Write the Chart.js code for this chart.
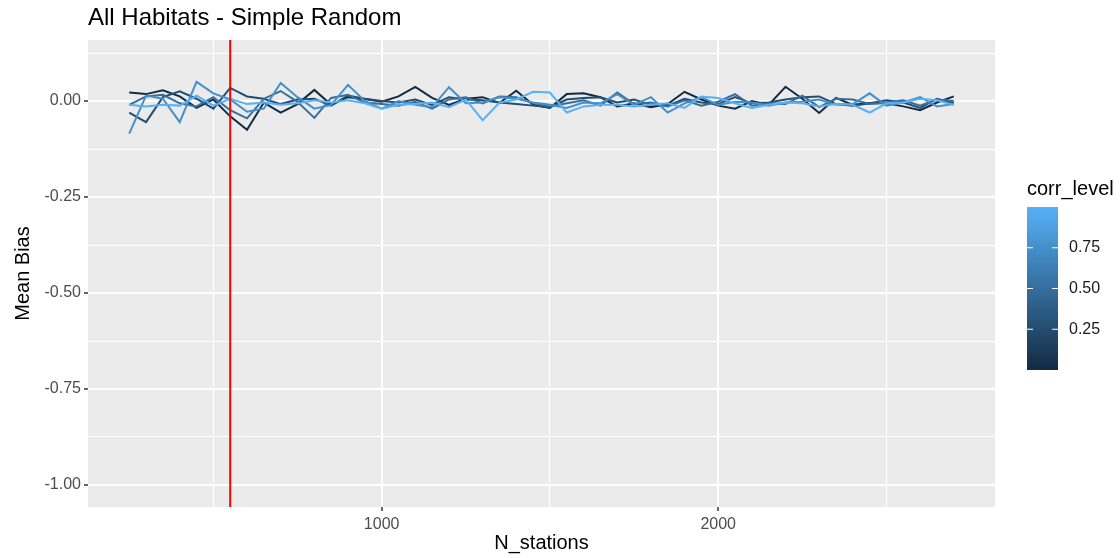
<!DOCTYPE html>
<html>
<head>
<meta charset="utf-8">
<script src="https://cdn.jsdelivr.net/npm/chart.js@4.4.1/dist/chart.umd.min.js"></script>
<style>
  html, body { margin: 0; padding: 0; background: #fff; }
  #wrap { width: 1120px; height: 558px; }
</style>
</head>
<body>
<div id="wrap"><canvas id="biasChart" width="1120" height="558"></canvas></div>
<script>
// sample sizes (x) shared by every corr_level series
const nStations = [
  250, 300, 350, 400, 450, 500, 550, 600, 650, 700,
  750, 800, 850, 900, 950, 1000, 1050, 1100, 1150, 1200,
  1250, 1300, 1350, 1400, 1450, 1500, 1550, 1600, 1650, 1700,
  1750, 1800, 1850, 1900, 1950, 2000, 2050, 2100, 2150, 2200,
  2250, 2300, 2350, 2400, 2450, 2500, 2550, 2600, 2650, 2700
];

const corrLevels = [0, 0.25, 0.5, 0.75, 1];

// mean bias per corr_level
const bias000 = [
  0.022, 0.018, 0.028, 0.012, -0.018, 0.004, -0.040, -0.075, -0.004, -0.030,
  -0.008, 0.029, -0.010, 0.010, 0.005, -0.002, 0.012, 0.037, 0.008, -0.010,
  0.006, 0.010, -0.005, 0.027, -0.010, -0.018, 0.018, 0.020, 0.010, -0.014,
  -0.006, -0.016, -0.008, 0.024, 0.004, -0.012, -0.020, 0.000, -0.010, 0.037,
  0.006, -0.031, 0.008, -0.010, -0.005, -0.006, -0.014, -0.024, -0.004, 0.012
];
const bias025 = [
  -0.030, -0.055, 0.010, 0.025, 0.006, -0.020, 0.034, 0.012, 0.006, -0.008,
  0.004, 0.006, -0.012, 0.014, 0.006, 0.000, -0.004, 0.004, -0.010, 0.010,
  0.004, 0.002, -0.004, -0.008, -0.012, -0.016, 0.004, 0.008, 0.010, -0.004,
  0.004, -0.010, -0.012, 0.006, -0.004, -0.008, 0.010, -0.006, -0.004, 0.004,
  0.010, 0.012, -0.008, -0.012, -0.006, 0.002, -0.004, -0.018, 0.006, -0.006
];
const bias050 = [
  -0.010, 0.012, 0.016, -0.006, -0.014, 0.010, -0.024, -0.045, 0.006, 0.026,
  -0.002, -0.044, 0.008, 0.016, -0.004, -0.008, -0.012, -0.002, -0.020, 0.004,
  0.010, -0.006, 0.012, 0.010, -0.006, -0.014, -0.006, 0.002, -0.012, 0.022,
  -0.008, -0.004, -0.014, 0.002, -0.012, -0.002, 0.018, -0.012, -0.006, -0.008,
  0.014, -0.016, 0.006, 0.004, -0.008, -0.004, 0.002, -0.012, 0.004, 0.000
];
const bias075 = [
  -0.085, 0.014, 0.006, -0.055, 0.050, 0.020, 0.004, -0.028, -0.020, 0.047,
  0.010, -0.020, -0.010, 0.042, 0.000, -0.020, 0.000, -0.010, -0.016, 0.036,
  -0.006, -0.004, 0.010, 0.006, -0.004, -0.010, -0.018, -0.004, -0.006, 0.018,
  -0.010, 0.010, -0.030, -0.006, 0.010, -0.010, -0.002, -0.004, -0.012, -0.004,
  -0.002, 0.004, -0.010, -0.008, 0.020, -0.012, -0.004, 0.010, -0.014, -0.008
];
const bias100 = [
  -0.010, -0.014, -0.010, -0.012, 0.014, -0.012, 0.006, -0.008, -0.004, -0.010,
  -0.006, 0.002, -0.004, 0.002, -0.006, -0.020, -0.010, -0.008, -0.004, -0.016,
  0.004, -0.050, -0.004, 0.004, 0.024, 0.022, -0.030, -0.014, -0.010, -0.010,
  -0.014, -0.010, -0.006, -0.018, 0.012, 0.008, -0.006, -0.018, -0.010, -0.004,
  -0.006, -0.014, -0.008, -0.010, -0.030, -0.006, -0.004, 0.006, 0.002, -0.010
];
const biasSeries = [bias000, bias025, bias050, bias075, bias100];

const xTicks = [500, 1000, 1500, 2000, 2500];
const yTicks = [0.125, 0, -0.125, -0.25, -0.375, -0.5, -0.625, -0.75, -0.875, -1.0];
const legendBreaks = [0.25, 0.5, 0.75];
const cutoffN = 550;

const LOW = [19, 43, 67];     // #132B43
const HIGH = [86, 177, 247];  // #56B1F7
function levelColor(t) {
  const c = LOW.map((v, i) => Math.round(v + (HIGH[i] - v) * t));
  return `rgb(${c[0]},${c[1]},${c[2]})`;
}

const FONT = '"Liberation Sans", Arial, Helvetica, sans-serif';
const isMajor = v => Math.abs(v * 4 - Math.round(v * 4)) < 1e-9;

const datasets = corrLevels.map((lvl, k) => ({
  label: String(lvl),
  data: nStations.map((n, i) => ({ x: n, y: biasSeries[k][i] })),
  borderColor: levelColor(lvl),
  borderWidth: 2,
  pointRadius: 0,
  tension: 0,
  fill: false,
  order: corrLevels.length - k   // higher corr drawn on top
}));

// grey panel behind the grid
const panelBg = {
  id: 'panelBg',
  beforeDraw(chart) {
    const { ctx, chartArea: a } = chart;
    ctx.save();
    ctx.fillStyle = '#FFFFFF';
    ctx.fillRect(0, 0, chart.width, chart.height);
    ctx.fillStyle = '#EBEBEB';
    ctx.fillRect(a.left, a.top, a.right - a.left, a.bottom - a.top);
    ctx.restore();
  }
};

// red vertical reference line
const cutoffLine = {
  id: 'cutoffLine',
  afterDatasetsDraw(chart) {
    const { ctx, chartArea: a, scales } = chart;
    const px = scales.x.getPixelForValue(cutoffN);
    ctx.save();
    ctx.strokeStyle = '#FF0000';
    ctx.lineWidth = 2;
    ctx.beginPath();
    ctx.moveTo(px, a.top);
    ctx.lineTo(px, a.bottom);
    ctx.stroke();
    ctx.restore();
  }
};

// title, axis titles and the colour bar legend
const decor = {
  id: 'decor',
  afterDraw(chart) {
    const { ctx, chartArea: a } = chart;
    ctx.save();
    ctx.fillStyle = '#000000';
    ctx.textBaseline = 'middle';

    ctx.font = `24px ${FONT}`;
    ctx.textAlign = 'left';
    ctx.fillText('All Habitats - Simple Random', a.left, 18);

    ctx.font = `20px ${FONT}`;
    ctx.textAlign = 'center';
    ctx.fillText('N_stations', (a.left + a.right) / 2, 543);

    ctx.save();
    ctx.translate(23, (a.top + a.bottom) / 2);
    ctx.rotate(-Math.PI / 2);
    ctx.fillText('Mean Bias', 0, 0);
    ctx.restore();

    // colour bar
    const bx = 1027, bw = 31, top = 207, bottom = 370;
    ctx.textAlign = 'left';
    ctx.font = `20px ${FONT}`;
    ctx.fillText('corr_level', bx, 189);

    const g = ctx.createLinearGradient(0, bottom, 0, top);
    g.addColorStop(0, levelColor(0));
    g.addColorStop(1, levelColor(1));
    ctx.fillStyle = g;
    ctx.fillRect(bx, top, bw, bottom - top);

    ctx.font = `16px ${FONT}`;
    ctx.strokeStyle = '#FFFFFF';
    ctx.lineWidth = 1;
    legendBreaks.forEach(b => {
      const y = bottom - (bottom - top) * b;
      ctx.beginPath();
      ctx.moveTo(bx, y); ctx.lineTo(bx + 6, y);
      ctx.moveTo(bx + bw - 6, y); ctx.lineTo(bx + bw, y);
      ctx.stroke();
      ctx.fillStyle = '#1A1A1A';
      ctx.fillText(b.toFixed(2), 1069, y);
    });
    ctx.restore();
  }
};

new Chart(document.getElementById('biasChart'), {
  type: 'line',
  data: { datasets },
  options: {
    responsive: false,
    animation: false,
    layout: { padding: { top: 40, right: 125, bottom: 0, left: 0 } },
    plugins: { legend: { display: false }, title: { display: false }, tooltip: { enabled: false } },
    scales: {
      x: {
        type: 'linear',
        min: 127.5,
        max: 2822.5,
        afterFit: s => { s.height = 51; },
        afterBuildTicks: s => { s.ticks = xTicks.map(v => ({ value: v })); },
        border: { display: false },
        grid: {
          color: '#FFFFFF',
          lineWidth: c => (c.tick && c.tick.value % 1000 === 0) ? 2 : 1,
          tickLength: 4,
          tickWidth: 1.5,
          tickColor: c => (c.tick && c.tick.value % 1000 === 0) ? '#333333' : 'rgba(0,0,0,0)'
        },
        ticks: {
          autoSkip: false,
          maxRotation: 0,
          padding: 4,
          color: '#4D4D4D',
          font: { family: FONT, size: 16 },
          callback: v => (v % 1000 === 0 ? String(v) : '')
        }
      },
      y: {
        min: -1.0573,
        max: 0.1589,
        afterFit: s => { s.width = 88; },
        afterBuildTicks: s => { s.ticks = yTicks.map(v => ({ value: v })); },
        border: { display: false },
        grid: {
          color: '#FFFFFF',
          lineWidth: c => (c.tick && isMajor(c.tick.value)) ? 2 : 1,
          tickLength: 4,
          tickWidth: 1.5,
          tickColor: c => (c.tick && isMajor(c.tick.value)) ? '#333333' : 'rgba(0,0,0,0)'
        },
        ticks: {
          autoSkip: false,
          padding: 3,
          color: '#4D4D4D',
          font: { family: FONT, size: 16 },
          callback: v => (isMajor(v) ? v.toFixed(2) : '')
        }
      }
    }
  },
  plugins: [panelBg, cutoffLine, decor]
});
</script>
</body>
</html>
